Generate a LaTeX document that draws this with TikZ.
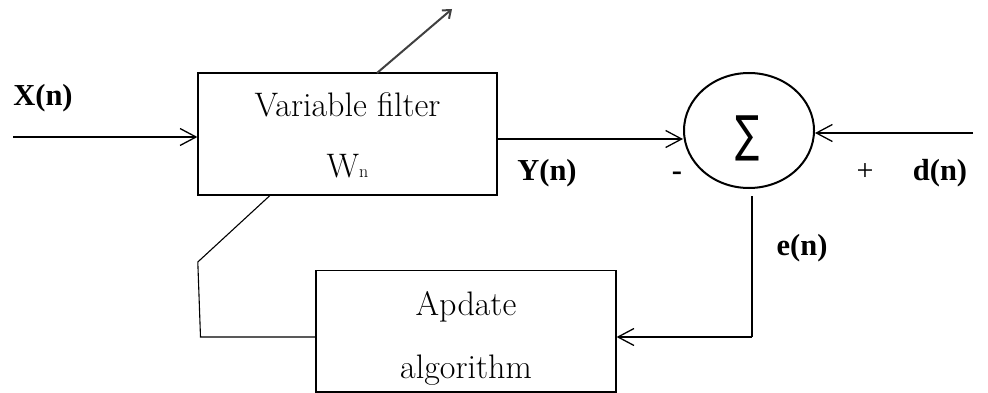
\documentclass[tikz,border=0pt]{standalone}
\usepackage{fontspec}
\usepackage{graphicx}
\usetikzlibrary{arrows.meta,shapes.geometric,calc}
\newfontfamily\lblfont{Liberation Serif}
\newfontfamily\symfont{DejaVu Sans}
\tikzset{
  blk/.style={draw,line width=1.2pt,inner sep=0pt},
  arr/.style={line width=1.3pt,-{Straight Barb[length=16pt,width=17pt,line width=1.3pt]}},
  wire/.style={line width=1.1pt},
  boxtext/.style={anchor=base,inner sep=0pt,font=\fontsize{34}{38}\selectfont},
  sig/.style={anchor=base,inner sep=0pt,font=\lblfont\bfseries\fontsize{30.5}{34}\selectfont},
}
\begin{document}
\begin{tikzpicture}[x=1pt,y=-1pt]
\useasboundingbox (0,0) rectangle (988,393);

% blocks
\node[blk,minimum width=299pt,minimum height=122pt] (filt) at (347.5,134) {};
\node[blk,minimum width=300pt,minimum height=121.3pt] (upd) at (466,331.4) {};
\node[draw,ellipse,line width=2pt,minimum width=130pt,minimum height=115pt,inner sep=0pt] (sum) at (749,130.5) {};

% texts in the blocks
\node[boxtext] (t1) at (347.5,117) {Variable filter};
\node[boxtext] (t2) at (347.5,178) {W{\fontsize{18}{20}\selectfont n}};
\node[boxtext] (t3) at (466,315) {Apdate};
\node[boxtext] (t4) at (466,378) {algorithm};
\node[inner sep=0pt,font=\symfont\fontsize{46}{50}\selectfont] (sg) at (748,138) {\scalebox{0.78}[1.08]{∑}};

% signal labels
\node[sig] (lx) at (43,106) {X(n)};
\node[sig] (ly) at (547,180) {Y(n)};
\node[sig] (lm) at (677,180) {-};
\node[anchor=base,inner sep=0pt,font=\lblfont\fontsize{30}{34}\selectfont] (lp) at (865,180) {+};
\node[sig] (ld) at (940,180) {d(n)};
\node[sig] (le) at (802,255) {e(n)};

% free ends and bends
\coordinate (xin) at (13,137);
\coordinate (yout) at (497,139);
\coordinate (din) at (973,133);
\coordinate (etop) at (752,196);
\coordinate (ebend) at (752,337);
\coordinate (fb1) at (200.5,337);
\coordinate (fb2) at (197.8,262);
\coordinate (fbend) at (270.5,195);
\coordinate (adjs) at (377,73);
\coordinate (adje) at (452,9);

% connectors
\draw[arr] (xin) -- (xin -| filt.west);
\draw[arr] (yout) -- (yout -| sum.west);
\draw[arr] (din) -- (din -| sum.east);
\draw[wire] (etop) -- (ebend);
\draw[arr] (ebend) -- (ebend -| upd.east);
\draw[wire] (ebend -| upd.west) -- (fb1) -- (fb2) -- (fbend);
\draw[line width=2pt,color=black!75,-{Straight Barb[length=7pt,width=11pt,line width=2pt]}] (adjs) -- (adje);
\end{tikzpicture}
\end{document}
